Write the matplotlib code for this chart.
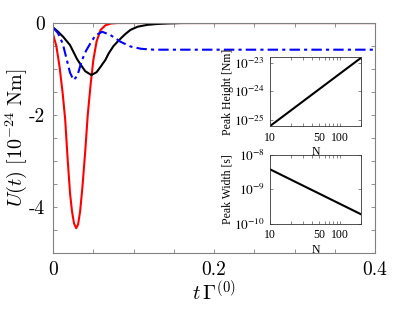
import numpy as np
import matplotlib
matplotlib.use("Agg")
import matplotlib.pyplot as plt

plt.rcParams['mathtext.fontset'] = 'cm'
plt.rcParams['axes.unicode_minus'] = False
plt.rcParams['xtick.direction'] = 'in'
plt.rcParams['ytick.direction'] = 'in'
plt.rcParams['xtick.top'] = True
plt.rcParams['ytick.right'] = True

# main panel: U(t) curves
t_red = [0, 0.004, 0.008, 0.012, 0.015, 0.018, 0.021, 0.0235, 0.026, 0.0287, 0.031,
         0.0335, 0.0365, 0.04, 0.043, 0.0465, 0.05, 0.054, 0.059, 0.065, 0.072, 0.08,
         0.1, 0.4]
u_red = [-0.25, -0.5, -0.95, -1.55, -2.1, -2.95, -3.7, -4.1, -4.36, -4.46, -4.38,
         -4.1, -3.55, -2.76, -2.0, -1.35, -0.8, -0.4, -0.15, -0.05, -0.01, 0,
         0, 0]

t_black = [0, 0.005, 0.0125, 0.021, 0.0296, 0.034, 0.04, 0.0475, 0.054, 0.059, 0.065,
           0.069, 0.075, 0.082, 0.089, 0.096, 0.105, 0.117, 0.13, 0.142, 0.16, 0.4]
u_black = [-0.1, -0.17, -0.3, -0.48, -0.78, -0.9, -1.05, -1.13, -1.07, -0.95, -0.8,
           -0.66, -0.5, -0.37, -0.25, -0.15, -0.08, -0.04, -0.02, -0.01, 0, 0]

t_blue = [0, 0.006, 0.012, 0.017, 0.021, 0.0254, 0.03, 0.036, 0.041, 0.046, 0.0525,
          0.061, 0.071, 0.084, 0.096, 0.109, 0.125, 0.15, 0.2, 0.4]
u_blue = [-0.1, -0.22, -0.45, -0.8, -1.08, -1.24, -1.15, -0.8, -0.6, -0.45, -0.27,
          -0.19, -0.26, -0.41, -0.51, -0.56, -0.58, -0.58, -0.58, -0.58]

# insets
N = [10, 20, 50, 100, 200]
peak_height = [6.2e-26, 2.2e-25, 1.18e-24, 4.2e-24, 1.49e-23]
peak_width = [3.8e-9, 1.9e-9, 7.6e-10, 3.8e-10, 1.9e-10]

grey = '#808080'
cm_font = ['cmr10', 'DejaVu Serif']
times = ['Liberation Serif', 'DejaVu Serif']

fig = plt.figure(figsize=(4.15, 3.11), dpi=100)
ax = fig.add_axes([0.128, 0.1865, 0.776, 0.7395])

ax.plot(t_red, u_red, color='red', lw=1.5)
ax.plot(t_black, u_black, color='black', lw=1.5)
ax.plot(t_blue, u_blue, color='blue', lw=1.5, ls=(0, (5, 2, 1.5, 2)))

ax.set_xlim(0, 0.4)
ax.set_ylim(-5, 0)
ax.set_xticks([0, 0.2, 0.4])
ax.set_xticklabels(['0', '0.2', '0.4'], family=cm_font, fontsize=14)
ax.set_xticks(np.arange(0, 0.41, 0.05), minor=True)
ax.set_yticks([-4, -2, 0])
ax.set_yticklabels(['-4', '-2', '0'], family=cm_font, fontsize=14)
ax.set_yticks(np.arange(-5, 0.01, 0.5), minor=True)
ax.tick_params(which='both', length=3, width=0.6, color=grey, pad=6)
for s in ax.spines.values():
    s.set_color(grey)
    s.set_linewidth(0.8)
ax.set_xlabel(r'$t\,\Gamma^{(0)}$', fontsize=15, labelpad=0)
ax.set_ylabel(r'$U(t)\ [10^{-24}\ \mathrm{Nm}]$', fontsize=14.5, labelpad=0)

# inset: peak height
ax1 = fig.add_axes([0.651, 0.595, 0.219, 0.222])
ax1.loglog(N, peak_height, color='black', lw=1.5)
ax1.set_xlim(10, 200)
ax1.set_ylim(6.2e-26, 1.6e-23)
ax1.set_xticks([10, 50, 100])
ax1.set_xticklabels(['10', '50', '100'], family=times, fontsize=8.5)
ax1.set_yticks([1e-25, 1e-24, 1e-23])
ax1.set_yticklabels([r'$10^{-25}$', r'$10^{-24}$', r'$10^{-23}$'], fontsize=9.5,
                    math_fontfamily='stix')
ax1.set_xlabel('N', family=times, fontsize=8.5, labelpad=2)
ax1.set_ylabel('Peak Height [Nm]', family=times, fontsize=8.5, labelpad=0)

# inset: peak width
ax2 = fig.add_axes([0.651, 0.28, 0.219, 0.222])
ax2.loglog(N, peak_width, color='black', lw=1.5)
ax2.set_xlim(10, 200)
ax2.set_ylim(1e-10, 1e-8)
ax2.set_xticks([10, 50, 100])
ax2.set_xticklabels(['10', '50', '100'], family=times, fontsize=8.5)
ax2.set_yticks([1e-10, 1e-9, 1e-8])
ax2.set_yticklabels([r'$10^{-10}$', r'$10^{-9}$', r'$10^{-8}$'], fontsize=9.5,
                    math_fontfamily='stix')
ax2.set_xlabel('N', family=times, fontsize=8.5, labelpad=2)
ax2.set_ylabel('Peak Width [s]', family=times, fontsize=8.5, labelpad=0)

for a in (ax1, ax2):
    a.tick_params(which='both', length=2, width=0.5, color='#555555', pad=4)
    a.yaxis.set_minor_locator(matplotlib.ticker.NullLocator())
    a.xaxis.set_minor_formatter(matplotlib.ticker.NullFormatter())
    for s in a.spines.values():
        s.set_linewidth(0.6)
        s.set_color('#333333')

fig.savefig('out.png', dpi=100)
